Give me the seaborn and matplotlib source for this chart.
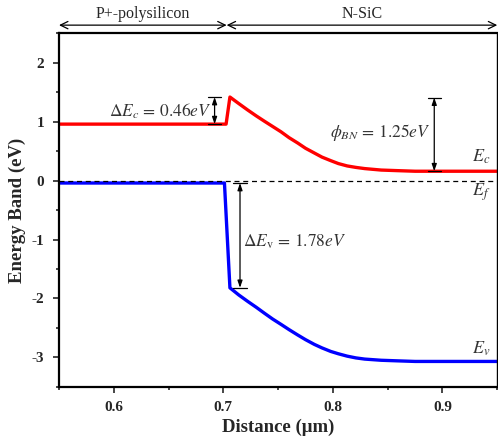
import numpy as np
import pandas as pd
import matplotlib
matplotlib.use("Agg")
import matplotlib.pyplot as plt
import seaborn as sns

# Conduction band edge Ec (eV) along the P+-polysilicon / N-SiC stack
ec_x = [0.55, 0.7025, 0.706, 0.714, 0.7222, 0.730, 0.7374, 0.745, 0.7526,
        0.760, 0.7678, 0.775, 0.783, 0.790, 0.798, 0.805, 0.813, 0.821,
        0.829, 0.844, 0.859, 0.875, 0.95]
ec_y = [0.96, 0.96, 1.42, 1.31, 1.20, 1.10, 1.01, 0.92, 0.83,
        0.73, 0.64, 0.55, 0.47, 0.40, 0.34, 0.29, 0.25, 0.225,
        0.205, 0.18, 0.17, 0.16, 0.16]

# Valence band edge Ev (eV)
ev_x = [0.55, 0.701, 0.706, 0.714, 0.7222, 0.730, 0.7374, 0.745, 0.7526,
        0.760, 0.7678, 0.775, 0.783, 0.790, 0.798, 0.805, 0.813, 0.821,
        0.829, 0.844, 0.859, 0.875, 0.95]
ev_y = [-0.04, -0.04, -1.82, -1.94, -2.05, -2.15, -2.25, -2.35, -2.44,
        -2.53, -2.62, -2.70, -2.78, -2.84, -2.90, -2.94, -2.98, -3.01,
        -3.03, -3.05, -3.06, -3.07, -3.07]

# Fermi level
ef_level = 0.0

# Band offsets / barrier annotated on the plot
dEc = 0.46
phi_bn = 1.25
dEv = 1.78

region_names = ["P+-polysilicon", "N-SiC"]
region_bounds = [0.55, 0.703, 0.95]

x_ticks = [0.6, 0.7, 0.8, 0.9]
y_ticks = [-3, -2, -1, 0, 1, 2]

sns.set_theme(style="ticks")
plt.rcParams["font.family"] = ["Liberation Serif", "DejaVu Serif"]
plt.rcParams["mathtext.fontset"] = "stix"

fig = plt.figure(figsize=(4.98, 4.40), dpi=100)
ax = fig.add_axes([0.1185, 0.121, 0.880, 0.803])

ec_df = pd.DataFrame({"x": ec_x, "E": ec_y})
ev_df = pd.DataFrame({"x": ev_x, "E": ev_y})
sns.lineplot(data=ec_df, x="x", y="E", sort=False, color="#ff0000",
             linewidth=2.4, ax=ax, estimator=None)
sns.lineplot(data=ev_df, x="x", y="E", sort=False, color="#0000ff",
             linewidth=2.4, ax=ax, estimator=None)
ax.axhline(ef_level, color="black", linestyle=(0, (4, 3)), linewidth=0.9)

ax.set_xlim(0.55, 0.95)
ax.set_ylim(-3.5, 2.5)
ax.set_xticks(x_ticks)
ax.set_yticks(y_ticks)
ax.set_xticks([0.55, 0.65, 0.75, 0.85, 0.95], minor=True)
ax.set_yticks(np.arange(-3.5, 2.51, 1.0), minor=True)
ax.set_xticklabels([f"{t:.1f}" for t in x_ticks], fontweight="bold", fontsize=11)
ax.set_yticklabels([str(t) for t in y_ticks], fontweight="bold", fontsize=11)
ax.tick_params(which="major", direction="out", length=4.5, width=1.2, pad=6)
ax.tick_params(which="minor", direction="out", length=2.5, width=1.2)
for side in ["left", "bottom", "top"]:
    ax.spines[side].set_linewidth(1.6)
ax.spines["right"].set_linewidth(1.0)
for side in ax.spines:
    ax.spines[side].set_visible(True)
    ax.spines[side].set_color("black")

ax.set_xlabel("Distance (μm)", fontsize=13.5, fontweight="bold", labelpad=3)
ax.set_ylabel("Energy Band (eV)", fontsize=13.5, fontweight="bold", labelpad=4)


def bar_arrow(x, y0, y1, cap=0.006):
    ax.annotate("", xy=(x, y1), xytext=(x, y0),
                arrowprops=dict(arrowstyle="<|-|>,head_length=0.35,head_width=0.12",
                                color="black", lw=0.9, shrinkA=0, shrinkB=0))
    for y in (y0, y1):
        ax.plot([x - cap, x + cap], [y, y], color="black", lw=0.9)


# Conduction band offset at the heterojunction
ec_left = ec_y[0]
ec_peak = ec_left + dEc
bar_arrow(0.692, ec_left, ec_peak)
ax.text(0.689, 1.17, r"$\Delta E_c\,=\,0.46eV$", ha="right", va="center",
        fontsize=12.5, color="#333333")

# Schottky-like barrier height in N-SiC
ec_bulk = ec_y[-1]
bar_arrow(0.8925, ec_bulk, ec_bulk + phi_bn)
ax.text(0.889, 0.81, r"$\phi_{BN}\,=\,1.25eV$", ha="right", va="center",
        fontsize=12.5, color="#333333")

# Valence band offset
ev_left = ev_y[0]
bar_arrow(0.7152, ev_left, ev_left - dEv)
ax.text(0.7175, -1.03, r"$\Delta E_{\mathrm{v}}\,=\,1.78eV$", ha="left", va="center",
        fontsize=12.5, color="#333333")

# Band labels
ax.text(0.927, 0.40, r"$E_c$", fontsize=13, color="#333333", va="center")
ax.text(0.927, -0.20, r"$E_f$", fontsize=13, color="#333333", va="center")
ax.text(0.927, -2.86, r"$E_v$", fontsize=13, color="#333333", va="center")

# Region arrows above the plot
trans = ax.get_xaxis_transform()
for name, a, b in zip(region_names, region_bounds[:-1], region_bounds[1:]):
    ax.annotate("", xy=(b, 1.0235), xytext=(a, 1.0235), xycoords=trans,
                textcoords=trans, annotation_clip=False,
                arrowprops=dict(arrowstyle="<->,head_length=0.45,head_width=0.22",
                                color="black", lw=0.9, shrinkA=0, shrinkB=0))
    ax.text((a + b) / 2, 1.056, name, transform=trans, ha="center", va="center",
            fontsize=11.5, clip_on=False)

fig.savefig("out.png", dpi=100)
